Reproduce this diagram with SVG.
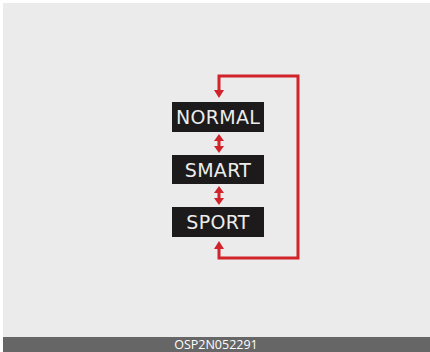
<svg xmlns="http://www.w3.org/2000/svg" width="430" height="352" viewBox="0 0 430 352">
<style>
.box{fill:#1c1a1b}
.lbl{fill:#ececec;font-family:"DejaVu Sans","Liberation Sans",sans-serif;font-size:19px;text-anchor:middle;letter-spacing:0.3px}
.wire{fill:none;stroke:#d1232a;stroke-width:3}
.head{fill:#d1232a}
</style>
<rect x="0" y="0" width="430" height="352" fill="#ffffff"/>
<rect x="3" y="3" width="427" height="334" fill="#ebebeb"/>
<rect x="3" y="337" width="427" height="15" fill="#666666"/>
<text x="216" y="349" font-family="'Open Sans','Liberation Sans',sans-serif" font-size="12.5" fill="#ffffff" text-anchor="middle">OSP2N052291</text>
<g id="connectors">
<path class="wire" d="M219,90 V76 H298 V258 H219 V249"/>
<polygon class="head" points="214,90 224,90 219,98"/>
<polygon class="head" points="214,249 224,249 219,241"/>
<line class="wire" x1="219" y1="139" x2="219" y2="148"/>
<polygon class="head" points="214,141 224,141 219,134"/>
<polygon class="head" points="214,146 224,146 219,153"/>
<line class="wire" x1="219" y1="191" x2="219" y2="200"/>
<polygon class="head" points="214,193 224,193 219,186"/>
<polygon class="head" points="214,198 224,198 219,205"/>
</g>
<g id="normal">
<rect class="box" x="172" y="102" width="92" height="30"/>
<text class="lbl" x="218" y="124">NORMAL</text>
</g>
<g id="smart">
<rect class="box" x="172" y="155" width="92" height="29"/>
<text class="lbl" x="218" y="177">SMART</text>
</g>
<g id="sport">
<rect class="box" x="172" y="207" width="92" height="30"/>
<text class="lbl" x="218" y="229">SPORT</text>
</g>
</svg>
